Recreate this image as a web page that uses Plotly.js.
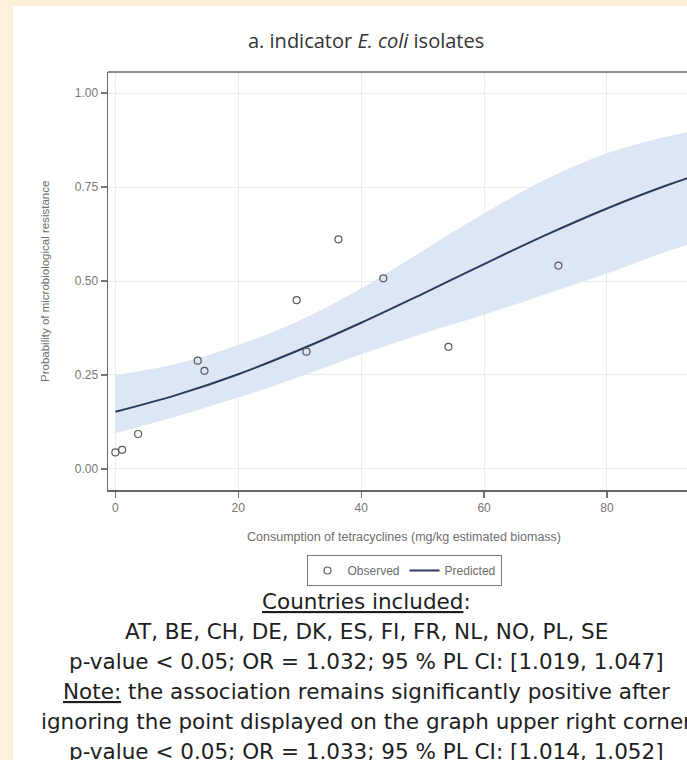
<!DOCTYPE html>
<html>
<head>
<meta charset="utf-8">
<script src="https://cdn.plot.ly/plotly-3.0.1.min.js"></script>
<style>
html, body { margin:0; padding:0; overflow:hidden; background:#FEF1DA; width:687px; height:760px; }
#wrap { position:absolute; left:13px; top:6px; width:760px; height:754px; background:#ffffff; }
#chart { width:760px; height:754px; }
</style>
</head>
<body>
<div id="wrap"><div id="chart"></div></div>
<script>
// ---- data ----
const obsX = [0.0, 1.1, 3.7, 13.4, 14.5, 29.5, 31.1, 36.3, 43.6, 54.2, 72.1];
const obsY = [0.044, 0.051, 0.093, 0.288, 0.261, 0.449, 0.312, 0.611, 0.507, 0.325, 0.541];

const predX = [0, 10, 20, 30, 40, 50, 60, 70, 80, 90, 100];
const predY = [0.152, 0.197, 0.252, 0.317, 0.389, 0.466, 0.545, 0.622, 0.693, 0.756, 0.810];
const upperY = [0.25, 0.28, 0.33, 0.395, 0.48, 0.58, 0.68, 0.77, 0.84, 0.885, 0.92];
const lowerY = [0.095, 0.14, 0.19, 0.245, 0.305, 0.36, 0.41, 0.465, 0.52, 0.58, 0.63];

const xTicks = [0, 20, 40, 60, 80];
const yTicks = [0, 0.25, 0.5, 0.75, 1.0];
const yTickText = ['0.00', '0.25', '0.50', '0.75', '1.00'];

const titleText = 'a. indicator <i>E. coli</i> isolates';
const xTitle = 'Consumption of tetracyclines (mg/kg estimated biomass)';
const yTitle = 'Probability of microbiological resistance';
const noteLines = [
  '<span style="text-decoration:underline">Countries included</span>:',
  'AT, BE, CH, DE, DK, ES, FI, FR, NL, NO, PL, SE',
  'p-value &lt; 0.05; OR = 1.032; 95 % PL CI: [1.019, 1.047]',
  '<span style="text-decoration:underline">Note:</span> the association remains significantly positive after',
  'ignoring the point displayed on the graph upper right corner',
  'p-value &lt; 0.05; OR = 1.033; 95 % PL CI: [1.014, 1.052]'
];

// ---- layout geometry ----
const W = 760, H = 754, OX = 13, OY = 6;
const ml = 95, mr = 72, mt = 66, mb = 270;
const plotW = W - ml - mr, plotH = H - mt - mb;
const px = rx => (rx - OX - ml) / plotW;
const py = ry => (H - mb - (ry - OY)) / plotH;

const bandColor = 'rgb(221,230,244)';
const lineColor = '#2a3c5c';
const axisFont = {family: 'Liberation Sans, Arial, sans-serif', size: 12, color: '#777'};

const traces = [
  {x: predX, y: lowerY, type: 'scatter', mode: 'lines', line: {width: 0, shape: 'spline', color: bandColor},
   showlegend: false, hoverinfo: 'skip'},
  {x: predX, y: upperY, type: 'scatter', mode: 'lines', line: {width: 0, shape: 'spline', color: bandColor},
   fill: 'tonexty', fillcolor: bandColor, showlegend: false, hoverinfo: 'skip'},
  {x: predX, y: predY, type: 'scatter', mode: 'lines', name: 'Predicted', legendrank: 2,
   line: {color: lineColor, width: 2, shape: 'spline'}},
  {x: obsX, y: obsY, type: 'scatter', mode: 'markers', name: 'Observed', legendrank: 1,
   marker: {symbol: 'circle-open', size: 7, color: '#5a5a5a', line: {width: 1.2, color: '#5a5a5a'}}}
];

const annotations = [
  {text: titleText, x: px(366), y: py(41), xref: 'paper', yref: 'paper', showarrow: false,
   xanchor: 'center', yanchor: 'middle', font: {family: 'Open Sans, sans-serif', size: 20, color: '#333'}},
  {text: xTitle, x: px(404), y: py(537), xref: 'paper', yref: 'paper', showarrow: false,
   xanchor: 'center', yanchor: 'middle', font: {family: 'Liberation Sans, Arial, sans-serif', size: 12.5, color: '#6e6e6e'}},
  {text: yTitle, x: px(45), y: py(282), xref: 'paper', yref: 'paper', showarrow: false, textangle: -90,
   xanchor: 'center', yanchor: 'middle', font: {family: 'Liberation Sans, Arial, sans-serif', size: 11.5, color: '#6e6e6e'}}
];
const lineYs = [601, 631, 661, 691, 721, 751];
noteLines.forEach((t, i) => {
  annotations.push({text: t, x: px(366), y: py(lineYs[i]), xref: 'paper', yref: 'paper', showarrow: false,
    xanchor: 'center', yanchor: 'middle', font: {family: 'DejaVu Sans, sans-serif', size: 21.5, color: '#1e1e1e'}});
});

const layout = {
  width: W, height: H,
  margin: {l: ml, r: mr, t: mt, b: mb, pad: 0},
  paper_bgcolor: '#ffffff', plot_bgcolor: '#ffffff',
  showlegend: true,
  legend: {orientation: 'h', traceorder: 'normal', x: px(404), y: py(555), xanchor: 'center', yanchor: 'top',
    bordercolor: '#777', borderwidth: 1, bgcolor: '#fff',
    font: {family: 'Liberation Sans, Arial, sans-serif', size: 12, color: '#6e6e6e'},
    itemwidth: 30, tracegroupgap: 0},
  xaxis: {range: [-1.2, 95.3], tickvals: xTicks, ticktext: xTicks.map(String),
    showgrid: true, gridcolor: '#ececec', gridwidth: 1, zeroline: false,
    showline: true, linecolor: '#666', linewidth: 1.5, mirror: false,
    ticks: 'outside', ticklen: 6, tickcolor: '#777', tickwidth: 1.2,
    tickfont: axisFont, fixedrange: true},
  yaxis: {range: [-0.056, 1.056], tickvals: yTicks, ticktext: yTickText,
    showgrid: true, gridcolor: '#ececec', gridwidth: 1, zeroline: false,
    showline: true, linecolor: '#666', linewidth: 1.5, mirror: false,
    ticks: 'outside', ticklen: 6, tickcolor: '#777', tickwidth: 1.2,
    tickfont: axisFont, fixedrange: true},
  shapes: [
    {type: 'line', xref: 'paper', yref: 'paper', x0: 0, x1: 1, y0: 1, y1: 1,
     line: {color: '#666', width: 1.5}}
  ],
  annotations: annotations
};

Plotly.newPlot('chart', traces, layout, {displayModeBar: false, staticPlot: true});
</script>
</body>
</html>
